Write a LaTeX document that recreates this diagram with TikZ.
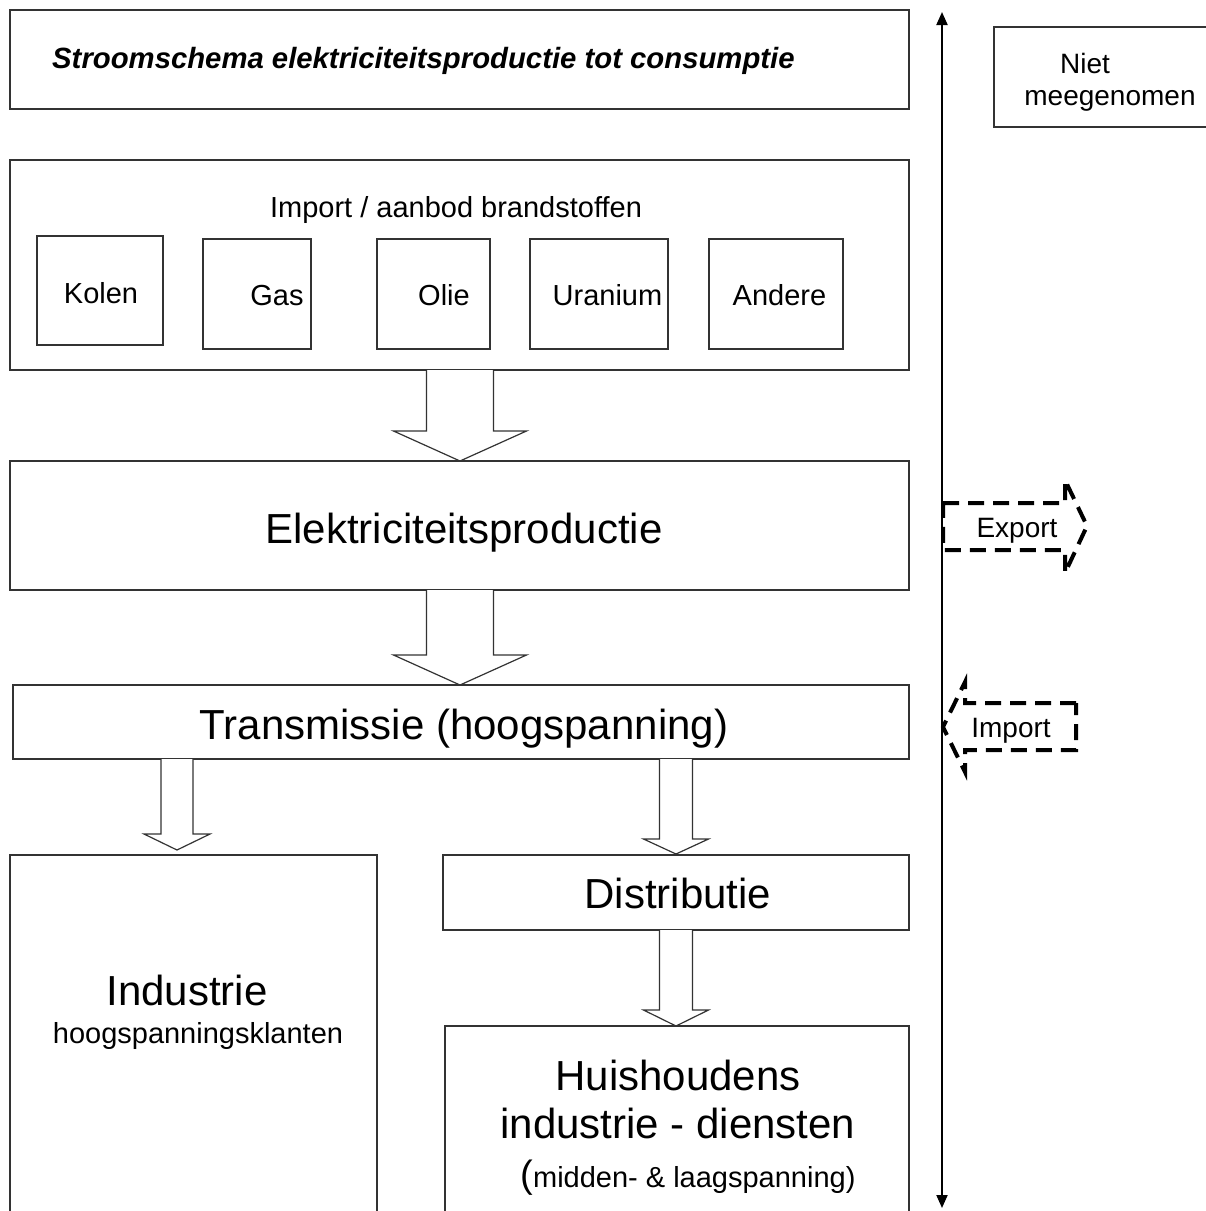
\documentclass[tikz,border=0pt]{standalone}
\usepackage{fontspec}
\setmainfont{Liberation Sans}
\usetikzlibrary{calc,arrows.meta}

% hollow block arrow pointing down from one box to the next
% #1 x-reference coordinate, #2 source node, #3 target node,
% #4 shaft half width, #5 head half width, #6 head length, #7 gap above target
\newcommand\flowarrow[7]{%
  \draw[flow] ($(#1 |- #2.south)+(-#4,0)$)
    -- ($(#1 |- #3.north)+(-#4,-#6-#7)$)
    -- ($(#1 |- #3.north)+(-#5,-#6-#7)$)
    -- ($(#1 |- #3.north)+(0,-#7)$)
    -- ($(#1 |- #3.north)+(#5,-#6-#7)$)
    -- ($(#1 |- #3.north)+(#4,-#6-#7)$)
    -- ($(#1 |- #2.south)+(#4,0)$);}

\begin{document}
\begin{tikzpicture}[x=1pt,y=-1pt,
  box/.style={draw=black!80,line width=1.5pt,inner sep=0pt,outer sep=0pt,anchor=north west},
  txt/.style={inner sep=0pt,anchor=base},
  huge/.style={font=\fontsize{42}{50}\selectfont},
  norm/.style={font=\fontsize{29}{35}\selectfont},
  small/.style={font=\fontsize{28}{34}\selectfont},
  flow/.style={draw=black!80,line width=1.2pt,fill=white,line join=miter},
  dashflow/.style={draw=black,line width=4pt,dash pattern=on 16pt off 9pt},
  axis/.style={draw=black,line width=2pt,{Triangle[width=11pt,length=13pt]}-{Triangle[width=11pt,length=13pt]}}]
\useasboundingbox (0,0) rectangle (1206,1211);
\clip (0,0) rectangle (1206,1211);

% title
\node[box,minimum width=899pt,minimum height=99pt] (title) at (10,10) {};
\node[txt,anchor=base west,font=\bfseries\itshape\fontsize{29.3}{35}\selectfont] (titletext) at (52,68)
  {Stroomschema elektriciteitsproductie tot consumptie};

% side note
\node[box,minimum width=240pt,minimum height=100pt] (niet) at (994,27) {};
\node[txt,small] (niet1) at (1085,73) {Niet};
\node[txt,small] (niet2) at (1110,105) {meegenomen};

% fuel supply
\node[box,minimum width=899pt,minimum height=210pt] (supply) at (10,160) {};
\node[txt,norm] (supplytext) at (456,217) {Import / aanbod brandstoffen};
\node[box,minimum width=126pt,minimum height=109pt] (kolen) at (37,236) {};
\node[txt,norm] (kolent) at (101,303) {Kolen};
\node[box,minimum width=108pt,minimum height=110pt] (gas) at (203,239) {};
\node[txt,norm] (gast) at (277,305) {Gas};
\node[box,minimum width=113pt,minimum height=110pt] (olie) at (377,239) {};
\node[txt,norm] (oliet) at (444,305) {Olie};
\node[box,minimum width=138pt,minimum height=110pt] (uranium) at (530,239) {};
\node[txt,norm] (uraniumt) at (607.5,305) {Uranium};
\node[box,minimum width=134pt,minimum height=110pt] (andere) at (709,239) {};
\node[txt,norm] (anderet) at (779.5,305) {Andere};

% production and transmission
\node[box,minimum width=899pt,minimum height=129pt] (prod) at (10,461) {};
\node[txt,huge] (prodt) at (464,543) {Elektriciteitsproductie};
\node[box,minimum width=896pt,minimum height=74pt] (trans) at (13,685) {};
\node[txt,huge] (transt) at (464,739) {Transmissie (hoogspanning)};

% consumers
\node[box,minimum width=367pt,minimum height=420pt] (ind) at (10,855) {};
\node[txt,huge] (indt1) at (187,1005) {Industrie};
\node[txt,norm] (indt2) at (198,1043) {hoogspanningsklanten};
\node[box,minimum width=466pt,minimum height=75pt] (dist) at (443,855) {};
\node[txt,huge] (distt) at (678,908) {Distributie};
\node[box,minimum width=464pt,minimum height=260pt] (huis) at (445,1026) {};
\node[txt,huge] (huist1) at (678,1090) {Huishoudens};
\node[txt,huge] (huist2) at (678,1138) {industrie - diensten};
\node[txt,norm] (huist3) at (688,1187) {{\fontsize{38}{40}\selectfont(}midden- \& laagspanning)};

% block arrows
\coordinate (cmid) at (460,0);
\coordinate (cleft) at (177,0);
\coordinate (cright) at (676,0);
\flowarrow{cmid}{supply}{prod}{33.5}{66.5}{30}{0}
\flowarrow{cmid}{prod}{trans}{33.5}{66.5}{30}{0}
\flowarrow{cleft}{trans}{ind}{16}{33}{16}{5}
\flowarrow{cright}{trans}{dist}{16.5}{32.5}{15}{1}
\flowarrow{cright}{dist}{huis}{16.5}{32.5}{16}{0}

% boundary axis
\coordinate (axtop) at (942,12);
\coordinate (axbot) at (942,1208);
\draw[axis] (axtop) -- (axbot);

% export / import
\node[txt,small] (export) at (1017,537) {Export};
\draw[dashflow] (943,503) -- (1065,503) -- (1065,480) -- (1087,526) -- (1065,573) -- (1065,550) -- (943,550) -- cycle;
\node[txt,small] (import) at (1011,737) {Import};
\draw[dashflow] (1076,703) -- (965,703) -- (965,682) -- (943,727) -- (965,772) -- (965,750) -- (1076,750) -- cycle;
\end{tikzpicture}
\end{document}
